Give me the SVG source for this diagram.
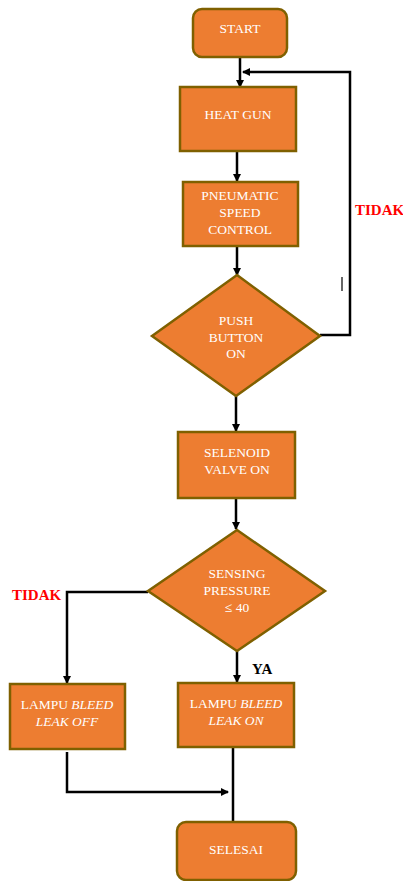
<svg xmlns="http://www.w3.org/2000/svg" width="403" height="881" viewBox="0 0 403 881">
<defs>
<marker id="ah" markerWidth="8" markerHeight="8" refX="7" refY="4" orient="auto" markerUnits="userSpaceOnUse">
<path d="M0,0 L8,4 L0,8 Z" fill="#000"/>
</marker>
<style>
.n{fill:#ED7D31;stroke:#7F6000;stroke-width:2.5}
.t{font-family:"Liberation Serif","Times New Roman",serif;font-size:13.5px;fill:#fff;text-anchor:middle}
.c{fill:none;stroke:#000;stroke-width:2.5}
.r{font-family:"Liberation Serif","Times New Roman",serif;font-size:15px;font-weight:bold;fill:#FF0000}
.k{font-family:"Liberation Serif","Times New Roman",serif;font-size:15px;font-weight:bold;fill:#000}
</style>
</defs>
<rect width="403" height="881" fill="#fff"/>
<g id="connectors">
<path class="c" d="M240,57 V87" marker-end="url(#ah)"/>
<path class="c" d="M320,335 H350 V72 H243" marker-end="url(#ah)"/>
<path class="c" d="M237,151 V181" marker-end="url(#ah)"/>
<path class="c" d="M237,246 V275" marker-end="url(#ah)"/>
<path class="c" d="M236,396 V431" marker-end="url(#ah)"/>
<path class="c" d="M236,498 V529" marker-end="url(#ah)"/>
<path class="c" d="M148,592 H67 V683" marker-end="url(#ah)"/>
<path class="c" d="M237,651 V682" marker-end="url(#ah)"/>
<path class="c" d="M67,752 V792 H228" marker-end="url(#ah)"/>
<path class="c" d="M233,747 V828" marker-end="url(#ah)"/>
</g>
<g id="start">
<rect class="n" x="193" y="9" width="94" height="48" rx="9"/>
<text class="t" x="240" y="33">START</text>
</g>
<g id="heatgun">
<rect class="n" x="180" y="87" width="116" height="64"/>
<text class="t" x="238" y="119">HEAT GUN</text>
</g>
<g id="pneumatic">
<rect class="n" x="183" y="182" width="115" height="64"/>
<text class="t" x="240" y="200">PNEUMATIC</text>
<text class="t" x="240" y="217">SPEED</text>
<text class="t" x="240" y="234">CONTROL</text>
</g>
<g id="pushbutton">
<polygon class="n" points="237,275 320,336 236,396 152,336"/>
<text class="t" x="236" y="325">PUSH</text>
<text class="t" x="236" y="342">BUTTON</text>
<text class="t" x="236" y="358">ON</text>
</g>
<g id="selenoid">
<rect class="n" x="178" y="432" width="117" height="66"/>
<text class="t" x="237" y="457">SELENOID</text>
<text class="t" x="237" y="474">VALVE ON</text>
</g>
<g id="sensing">
<polygon class="n" points="237,530 325,591 237,651 148,591"/>
<text class="t" x="237" y="578">SENSING</text>
<text class="t" x="237" y="595">PRESSURE</text>
<text class="t" x="237" y="612">≤ 40</text>
</g>
<g id="lampuoff">
<rect class="n" x="10" y="684" width="115" height="65"/>
<text class="t" x="67" y="709">LAMPU <tspan font-style="italic">BLEED</tspan></text>
<text class="t" x="67" y="726" font-style="italic">LEAK OFF</text>
</g>
<g id="lampuon">
<rect class="n" x="178" y="683" width="116" height="64"/>
<text class="t" x="236" y="708">LAMPU <tspan font-style="italic">BLEED</tspan></text>
<text class="t" x="236" y="725" font-style="italic">LEAK ON</text>
</g>
<g id="selesai">
<rect class="n" x="177" y="822" width="119" height="58" rx="9"/>
<text class="t" x="236" y="854">SELESAI</text>
</g>
<g id="labels">
<text class="r" x="355" y="215">TIDAK</text>
<text class="r" x="12" y="600">TIDAK</text>
<text class="k" x="252" y="674">YA</text>
<line x1="342" y1="277" x2="342" y2="291" stroke="#000" stroke-width="1.2"/>
</g>
</svg>
